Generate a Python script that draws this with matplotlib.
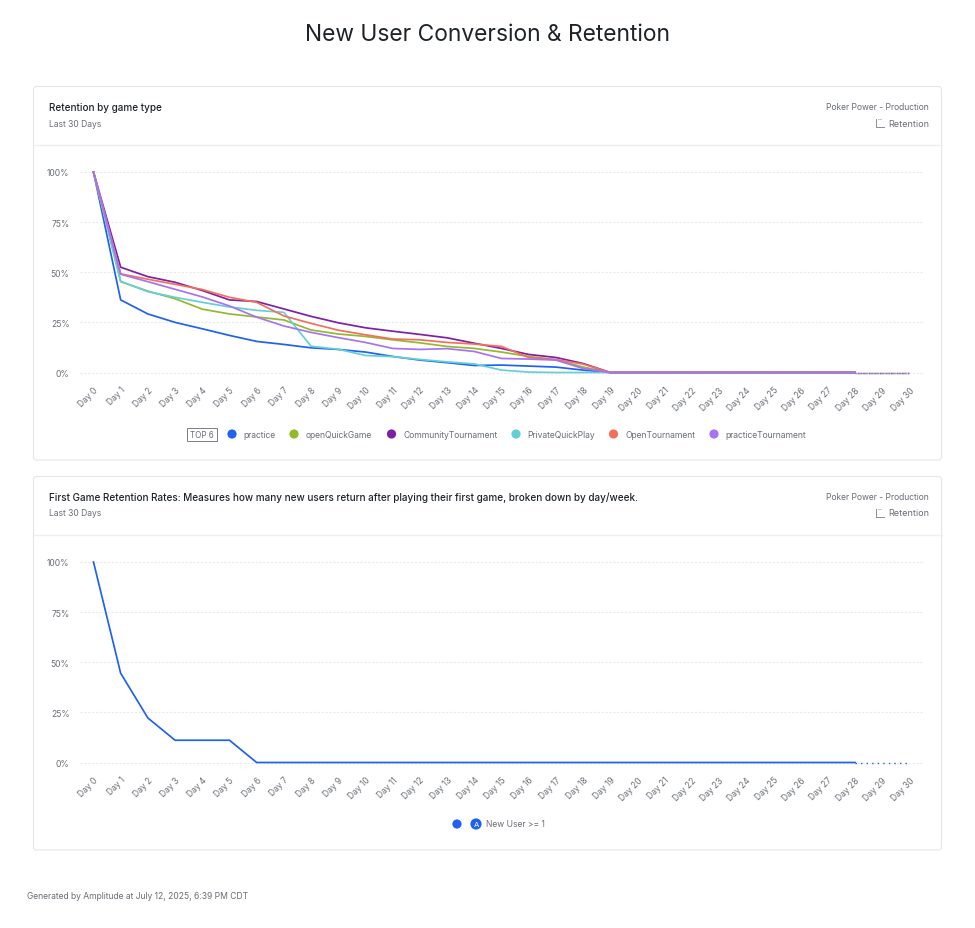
import matplotlib
matplotlib.use('Agg')
import matplotlib.pyplot as plt
from matplotlib.patches import FancyBboxPatch, Circle, Rectangle

plt.rcParams['font.family'] = ['Inter', 'DejaVu Sans']

days = [f"Day {i}" for i in range(31)]
y_ticks = [0, 25, 50, 75, 100]
y_labels = ["0%", "25%", "50%", "75%", "100%"]

# values, Day 0 to Day 19, zero afterwards
practice = [100, 36.2, 29.2, 25, 21.8, 18.5, 15.5, 14, 12.3, 11.5, 10.2, 8, 6.2, 4.9, 3.5, 3.7, 3.2, 2.7, 1.2, 0]
open_quick = [100, 45.3, 40.6, 36.8, 31.6, 29.2, 27.7, 26.2, 21.2, 19.2, 18, 16.3, 14.8, 13, 12, 10.2, 8, 6.4, 2.7, 0]
community = [100, 52.5, 47.8, 45, 40.9, 36.2, 35.4, 31.7, 28, 24.8, 22.3, 20.6, 19, 17.3, 14.6, 12, 9, 7.5, 4.5, 0]
private = [100, 45.5, 40.3, 37.5, 35, 32.7, 31, 30, 13.1, 11.6, 8.5, 7.9, 6.5, 5.3, 4.3, 1.2, 0.2, 0, 0, 0]
open_tour = [100, 49.2, 46.5, 44, 41.4, 37.5, 35, 28.2, 24.5, 21.1, 18.8, 16.7, 16.3, 15, 14.2, 13, 7.5, 6.4, 4.2, 0]
practice_tour = [100, 49, 45.3, 41.5, 37.7, 33.2, 27.6, 23.2, 20, 17.4, 15, 12, 11.5, 11.9, 10.5, 7, 6.7, 6.2, 2, 0]
new_user = [100, 44.5, 22.2, 11.1, 11.1, 11.1, 0]

names = ["practice", "openQuickGame", "CommunityTournament", "PrivateQuickPlay", "OpenTournament", "practiceTournament"]
colors = ["#1f62f0", "#93b92e", "#7e1fa8", "#65cfd8", "#f2705a", "#a873f0"]
series = [practice, open_quick, community, private, open_tour, practice_tour]

W, H = 975, 929
TEXT = "#686d74"


def draw_series(ax, values, color, idx=0):
    vals = list(values) + [0] * (31 - len(values))
    x = list(range(31))
    ax.plot(x[:29], vals[:29], color=color, lw=1.25, clip_on=False, solid_joinstyle='round', zorder=3)
    # dotted tail, offset per series so the colours show through
    ax.plot(x[28:], vals[28:], color=color, lw=1.0, ls=(idx * 1.2, (1, 3)), clip_on=False, zorder=3)


def make_axes(fig, top_px, bottom_px):
    ax = fig.add_axes([80 / W, 1 - bottom_px / H, 843 / W, (bottom_px - top_px) / H])
    ax.patch.set_visible(False)
    ax.set_xlim(-0.496, 30.5)
    ax.set_ylim(0, 100)
    ax.set_yticks(y_ticks)
    ax.set_yticklabels(y_labels)
    ax.set_xticks(range(31))
    ax.set_xticklabels(days, rotation=45, ha='right', va='top', rotation_mode='anchor')
    ax.tick_params(axis='both', length=0, labelsize=6.1, labelcolor=TEXT)
    ax.tick_params(axis='y', pad=7.5)
    ax.tick_params(axis='x', pad=9)
    for s in ax.spines.values():
        s.set_visible(False)
    ax.grid(axis='y', color="#e8eaec", lw=0.8, ls=(0, (2, 1.5)), clip_on=False)
    ax.set_axisbelow(True)
    for gl in ax.get_ygridlines():
        gl.set_clip_on(False)
    return ax


def draw_card(bg, top, bottom, title):
    bg.add_patch(FancyBboxPatch((33.5, top + 2.5), 908, bottom - top - 5, boxstyle="round,pad=0,rounding_size=3",
                                fc="white", ec="#e4e6e8", lw=0.8, mutation_aspect=1))
    bg.plot([33.5, 941.5], [top + 60.5, top + 60.5], color="#eeeff1", lw=1)
    bg.text(49, top + 22.5, title, fontsize=7.15, color="#1e2329", va='center', weight=500)
    bg.text(49, top + 39, "Last 30 Days", fontsize=6.1, color=TEXT, va='center')
    bg.text(929, top + 22.5, "Poker Power - Production", fontsize=6.1, color=TEXT, va='center', ha='right')
    bg.text(929, top + 39, "Retention", fontsize=6.5, color=TEXT, va='center', ha='right')
    # little retention icon
    bg.plot([875.5, 875.5, 884], [top + 35, top + 42.5, top + 42.5], color="#8a8f96", lw=0.7)
    bg.plot([877.5, 881], [top + 34.5, top + 34.5], color="#8a8f96", lw=0.7, ls=(0, (1, 1)))


fig = plt.figure(figsize=(W / 100, H / 100), dpi=100, facecolor="white")

bg = fig.add_axes([0, 0, 1, 1])
bg.set_xlim(0, W)
bg.set_ylim(H, 0)
bg.axis('off')

bg.text(487.5, 35, "New User Conversion & Retention", fontsize=16.4, color="#1e2329", ha='center', va='center')
draw_card(bg, 85, 463.5, "Retention by game type")
draw_card(bg, 475, 853.5, "First Game Retention Rates: Measures how many new users return after playing their first game, broken down by day/week.")
bg.text(27, 896.5, "Generated by Amplitude at July 12, 2025, 6:39 PM CDT", fontsize=6.15, color=TEXT, va='center')

# legend, top chart
bg.add_patch(Rectangle((186.5, 428.5), 30, 13, fc="white", ec="#7a7f85", lw=0.7))
bg.text(201.5, 435, "TOP 6", fontsize=5.8, color=TEXT, ha='center', va='center')
legend_x = [232, 294, 391.5, 516, 613.5, 714]
for lx, name, color in zip(legend_x, names, colors):
    bg.add_patch(Circle((lx, 435), 4.6, fc=color, ec='none'))
    bg.text(lx + 11.5, 435, name, fontsize=6.13, color=TEXT, va='center')

# legend, bottom chart
bg.add_patch(Circle((457, 825), 4.6, fc=colors[0], ec='none'))
bg.add_patch(Circle((476, 825), 5.6, fc=colors[0], ec='none'))
bg.text(476, 825, "A", fontsize=5.5, color="white", ha='center', va='center')
bg.text(486, 825, "New User >= 1", fontsize=6.13, color=TEXT, va='center')

ax1 = make_axes(fig, 173, 373.5)
for i, (values, color) in enumerate(zip(series, colors)):
    draw_series(ax1, values, color, i)

ax2 = make_axes(fig, 563, 763.5)
draw_series(ax2, new_user, colors[0])

fig.savefig("out.png", dpi=100)
